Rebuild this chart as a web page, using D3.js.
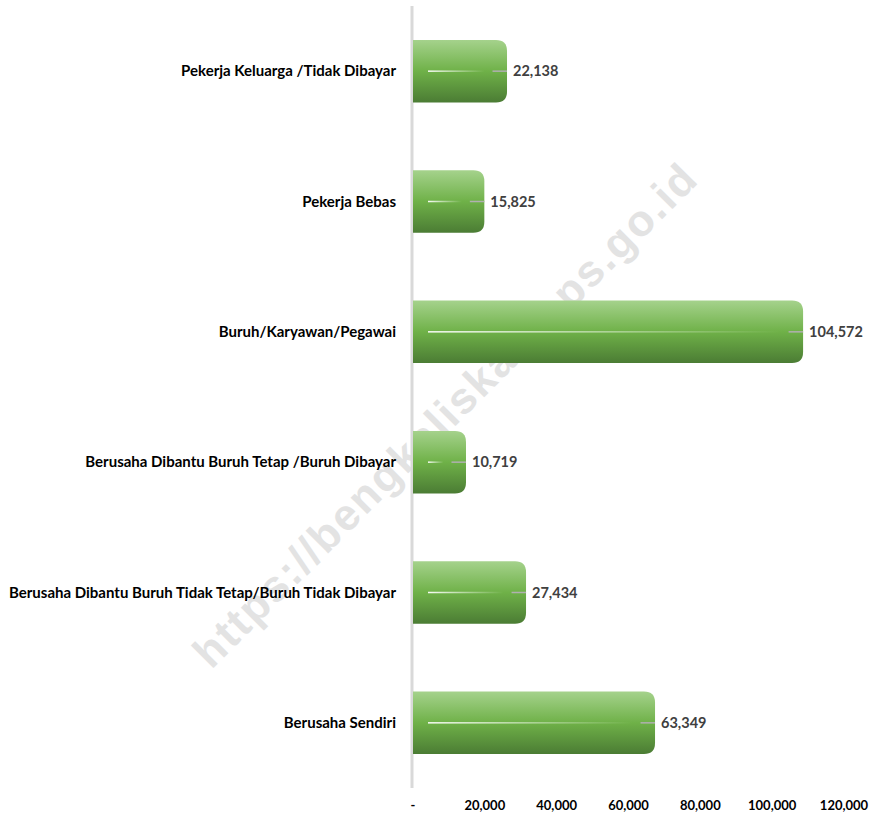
<!DOCTYPE html>
<html>
<head>
<meta charset="utf-8">
<script src="https://cdn.jsdelivr.net/npm/d3@7.9.0/dist/d3.min.js"></script>
<style>
  body { margin: 0; background: #fff; }
  text { font-family: Lato, "Open Sans", sans-serif; font-weight: bold; }
</style>
</head>
<body>
<svg id="chart" width="875" height="814"></svg>
<script>
// categories top to bottom
const categories = [
  "Pekerja Keluarga /Tidak Dibayar",
  "Pekerja Bebas",
  "Buruh/Karyawan/Pegawai",
  "Berusaha Dibantu Buruh Tetap /Buruh Dibayar",
  "Berusaha Dibantu Buruh Tidak Tetap/Buruh Tidak Dibayar",
  "Berusaha Sendiri"
];
const values = [22138, 15825, 104572, 10719, 27434, 63349];
const tickValues = [0, 20000, 40000, 60000, 80000, 100000, 120000];

const svg = d3.select("#chart");
const fmt = d3.format(",");

const x = d3.scaleLinear().domain([0, 120000]).range([413, 844]);
const y = d3.scaleBand().domain(categories).range([6, 788]).paddingInner(0.52).paddingOuter(0.26);

// gradients
const defs = svg.append("defs");
const grad = defs.append("linearGradient").attr("id", "barGrad")
  .attr("x1", 0).attr("y1", 0).attr("x2", 0).attr("y2", 1);
grad.append("stop").attr("offset", "0%").attr("stop-color", "#a5d28c");
grad.append("stop").attr("offset", "50%").attr("stop-color", "#6fb148");
grad.append("stop").attr("offset", "100%").attr("stop-color", "#4b7c34");

const shine = defs.append("linearGradient").attr("id", "shine")
  .attr("x1", 0).attr("y1", 0).attr("x2", 1).attr("y2", 0);
shine.append("stop").attr("offset", "0%").attr("stop-color", "#fff").attr("stop-opacity", 0.95);
shine.append("stop").attr("offset", "100%").attr("stop-color", "#fff").attr("stop-opacity", 0);

// watermark (behind bars)
svg.append("text")
  .attr("transform", "translate(447,418) rotate(-45)")
  .attr("text-anchor", "middle")
  .attr("dominant-baseline", "middle")
  .attr("textLength", 690)
  .style("font-family", "'Liberation Sans', Arial, sans-serif")
  .style("font-size", "44px")
  .attr("fill", "#e3e3e3")
  .text("https://bengkaliskab.bps.go.id");

// axis line
svg.append("line")
  .attr("x1", 412).attr("x2", 412).attr("y1", 6).attr("y2", 788)
  .attr("stroke", "#d9d9d9").attr("stroke-width", 3);

const cap = 14.5; // extra rounded end past the value
const r = 11;

function barPath(x0, x1, y0, h) {
  return `M${x0},${y0} H${x1 - r} Q${x1},${y0} ${x1},${y0 + r} V${y0 + h - r} Q${x1},${y0 + h} ${x1 - r},${y0 + h} H${x0} Z`;
}

const g = svg.selectAll(".bar").data(categories).enter().append("g");

g.append("path")
  .attr("d", (d, i) => barPath(x(0), x(values[i]) + cap, y(d), y.bandwidth()))
  .attr("fill", "url(#barGrad)");

// highlight streak
g.append("rect")
  .attr("x", 428)
  .attr("y", d => y(d) + y.bandwidth() / 2 - 0.75)
  .attr("width", (d, i) => Math.max(0, x(values[i]) - 436))
  .attr("height", 1.5)
  .attr("fill", "url(#shine)");

// small gray tick at end
g.append("line")
  .attr("x1", (d, i) => x(values[i]))
  .attr("x2", (d, i) => x(values[i]) + cap)
  .attr("y1", d => y(d) + y.bandwidth() / 2)
  .attr("y2", d => y(d) + y.bandwidth() / 2)
  .attr("stroke", "#b0b0b0").attr("stroke-width", 1.5);

// value labels
g.append("text")
  .attr("x", (d, i) => x(values[i]) + cap + 6)
  .attr("y", d => y(d) + y.bandwidth() / 2)
  .attr("dy", "0.35em")
  .attr("fill", "#404040")
  .style("font-size", "14.5px")
  .text((d, i) => fmt(values[i]));

// category labels
g.append("text")
  .attr("x", 396)
  .attr("y", d => y(d) + y.bandwidth() / 2)
  .attr("dy", "0.35em")
  .attr("text-anchor", "end")
  .attr("fill", "#000")
  .style("font-size", "15px")
  .text(d => d);

// x tick labels
svg.selectAll(".tick").data(tickValues).enter().append("text")
  .attr("x", d => x(d))
  .attr("y", 810)
  .attr("text-anchor", "middle")
  .attr("fill", "#000")
  .style("font-size", "13px")
  .text(d => d === 0 ? "-" : fmt(d));
</script>
</body>
</html>
